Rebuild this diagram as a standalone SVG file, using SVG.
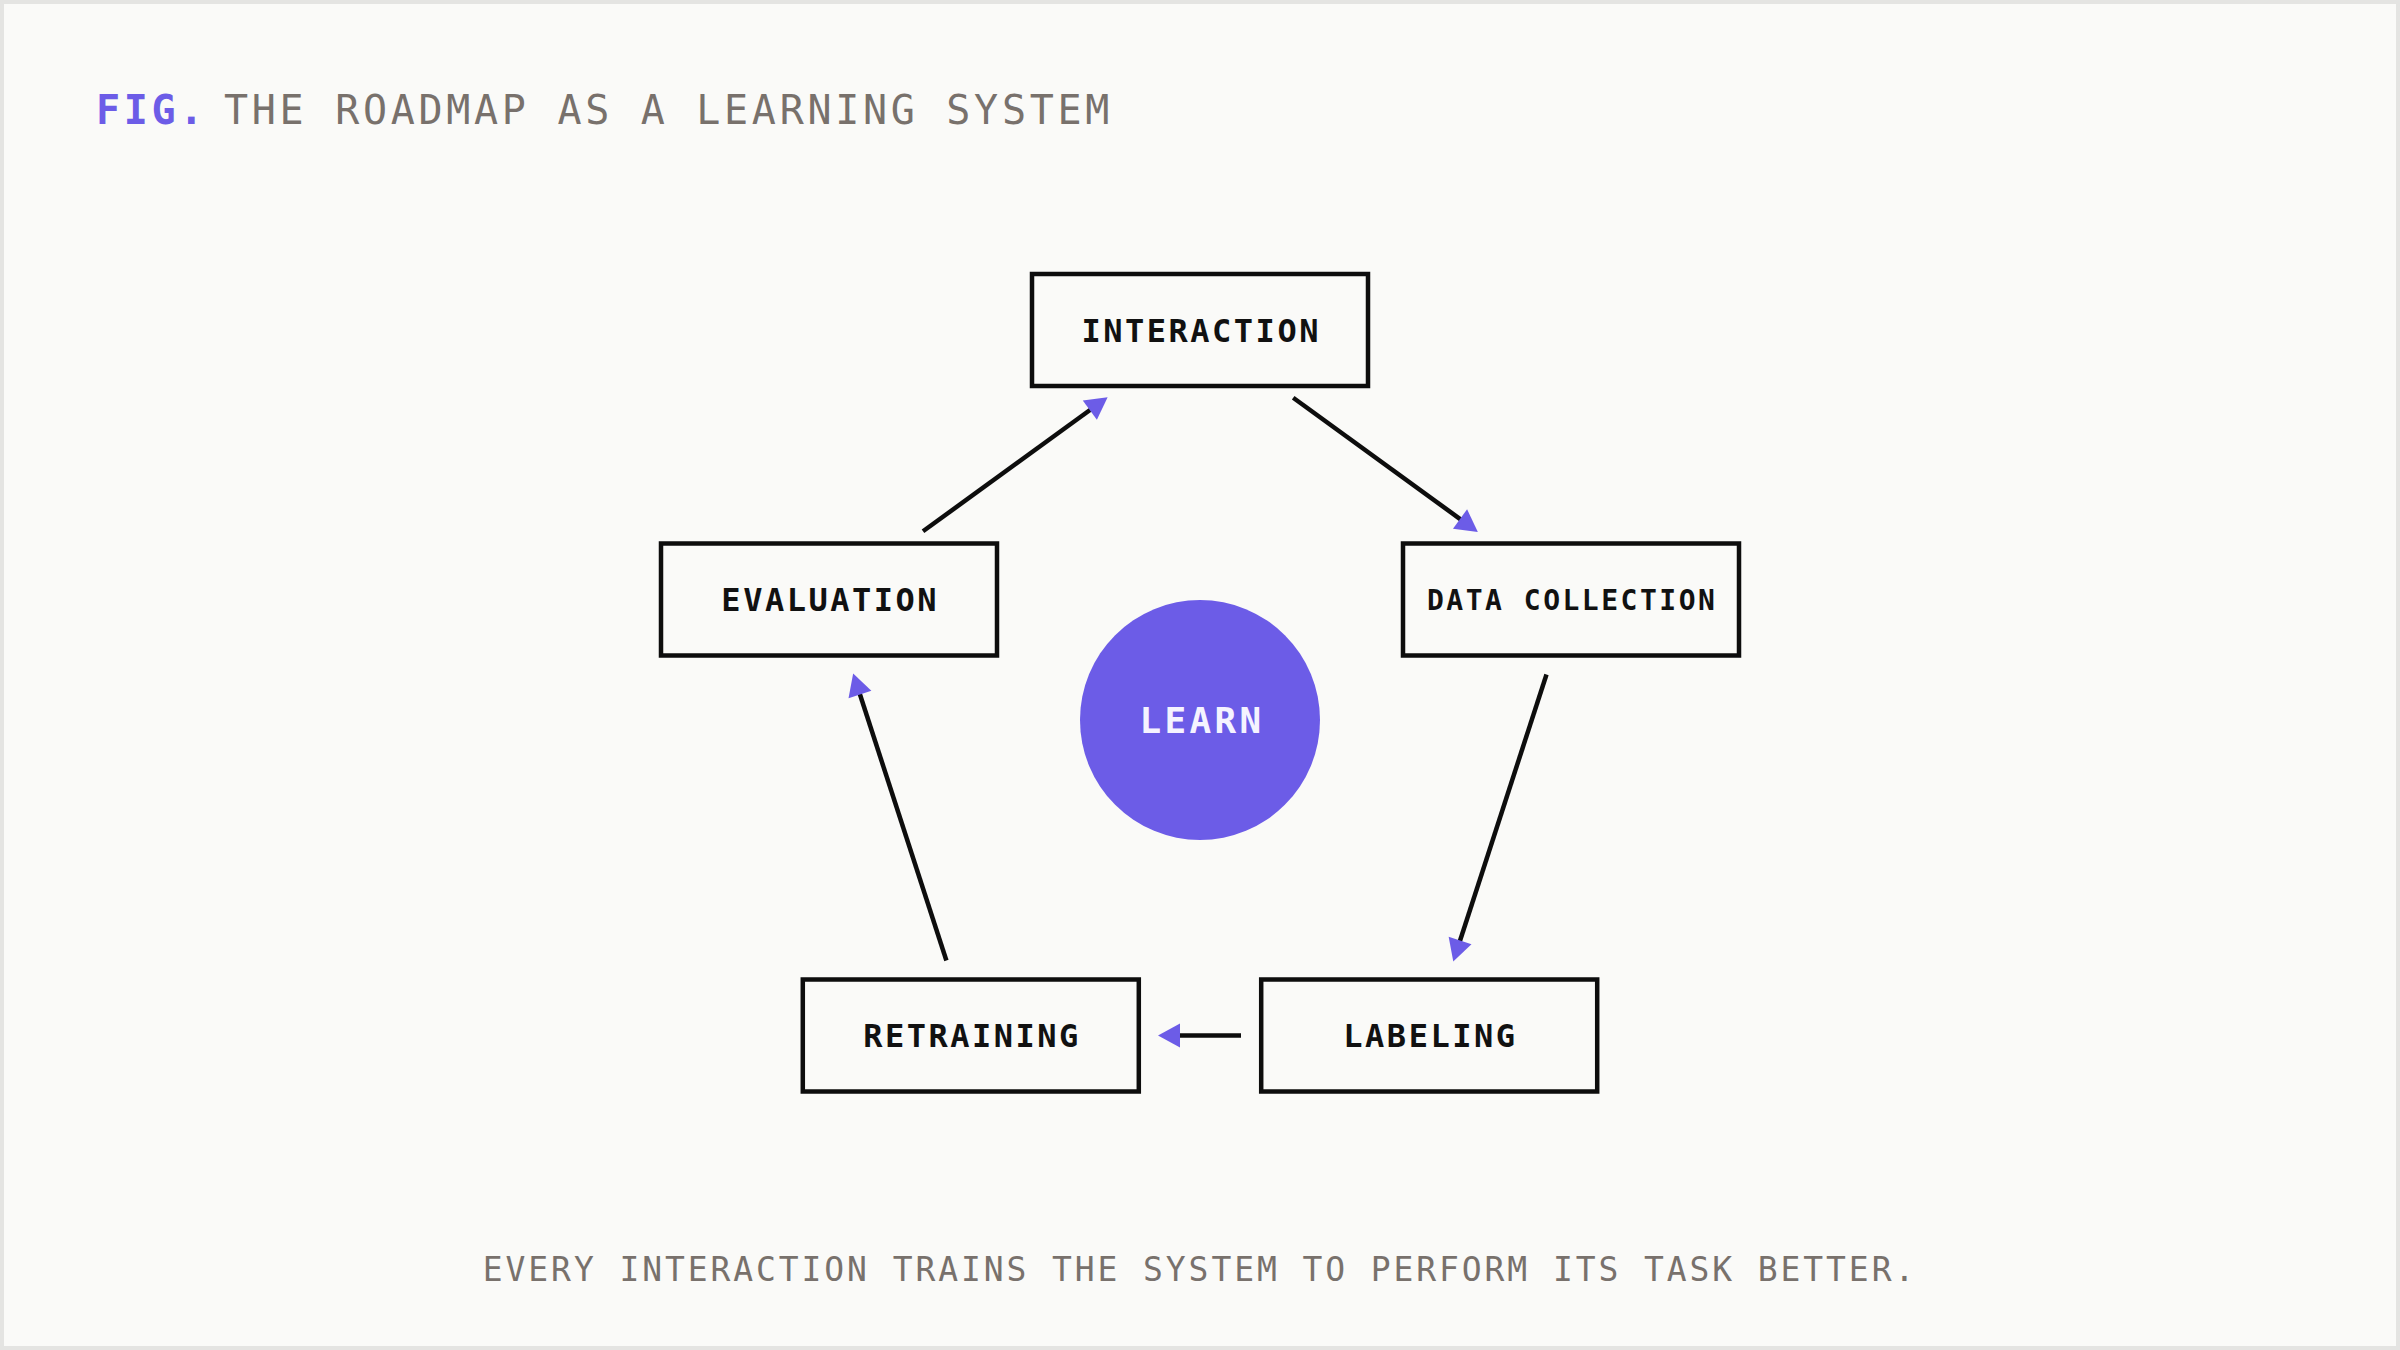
<svg xmlns="http://www.w3.org/2000/svg" width="2400" height="1350" viewBox="0 0 2400 1350">
<defs>
<style>
.frame{fill:#fafaf8;stroke:#e4e4e2;stroke-width:4}
.box{fill:none;stroke:#0d0d0d;stroke-width:4.5}
.lbl{font-family:"DejaVu Sans Mono","Liberation Mono",monospace;font-weight:bold;font-size:32px;letter-spacing:2.5px;fill:#111;text-anchor:middle}
.conn{stroke:#0d0d0d;stroke-width:4.5;fill:none;marker-end:url(#ah)}
.title{font-family:"DejaVu Sans Mono","Liberation Mono",monospace;font-size:40px;letter-spacing:3.7px;fill:#78716c}
.cap{font-family:"DejaVu Sans Mono","Liberation Mono",monospace;font-size:33px;letter-spacing:2.9px;fill:#78716c;text-anchor:middle}
</style>
<marker id="ah" markerUnits="userSpaceOnUse" markerWidth="23" markerHeight="24" refX="7" refY="12" orient="auto" overflow="visible">
<path d="M0,0 L22,12 L0,24 z" fill="#6c5ce7"/>
</marker>
</defs>
<rect class="frame" x="2" y="2" width="2396" height="1346"/>
<g id="title">
<text class="title" x="96" y="124" style="fill:#6c5ce7;font-weight:bold">FIG.</text>
<text class="title" x="224" y="124">THE ROADMAP AS A LEARNING SYSTEM</text>
</g>
<g id="connectors">
<line class="conn" x1="1293.2" y1="397.8" x2="1465.7" y2="523.1"/>
<line class="conn" x1="1546.5" y1="674.5" x2="1457.9" y2="947.2"/>
<line class="conn" x1="1241" y1="1035.5" x2="1173" y2="1035.5"/>
<line class="conn" x1="946.4" y1="960.5" x2="857.8" y2="687.8"/>
<line class="conn" x1="923" y1="531.3" x2="1095.5" y2="406"/>
</g>
<g id="learn">
<circle cx="1200" cy="720" r="120" fill="#6c5ce7"/>
<text x="1202" y="733" style="font-family:'DejaVu Sans Mono','Liberation Mono',monospace;font-weight:bold;font-size:36px;letter-spacing:3.3px;fill:#f5f3ff;text-anchor:middle">LEARN</text>
</g>
<g id="interaction">
<rect class="box" x="1032" y="274" width="336" height="112"/>
<text class="lbl" x="1201.2" y="341.5">INTERACTION</text>
</g>
<g id="data-collection">
<rect class="box" x="1403" y="543.5" width="336" height="112"/>
<text class="lbl" x="1572.2" y="609.5" style="font-size:28px">DATA COLLECTION</text>
</g>
<g id="labeling">
<rect class="box" x="1261.2" y="979.5" width="336" height="112"/>
<text class="lbl" x="1430.4" y="1047.3">LABELING</text>
</g>
<g id="retraining">
<rect class="box" x="802.8" y="979.5" width="336" height="112"/>
<text class="lbl" x="972" y="1047.3">RETRAINING</text>
</g>
<g id="evaluation">
<rect class="box" x="661" y="543.5" width="336" height="112"/>
<text class="lbl" x="830.2" y="611">EVALUATION</text>
</g>
<g id="caption">
<text class="cap" x="1200" y="1281">EVERY INTERACTION TRAINS THE SYSTEM TO PERFORM ITS TASK BETTER.</text>
</g>
</svg>
